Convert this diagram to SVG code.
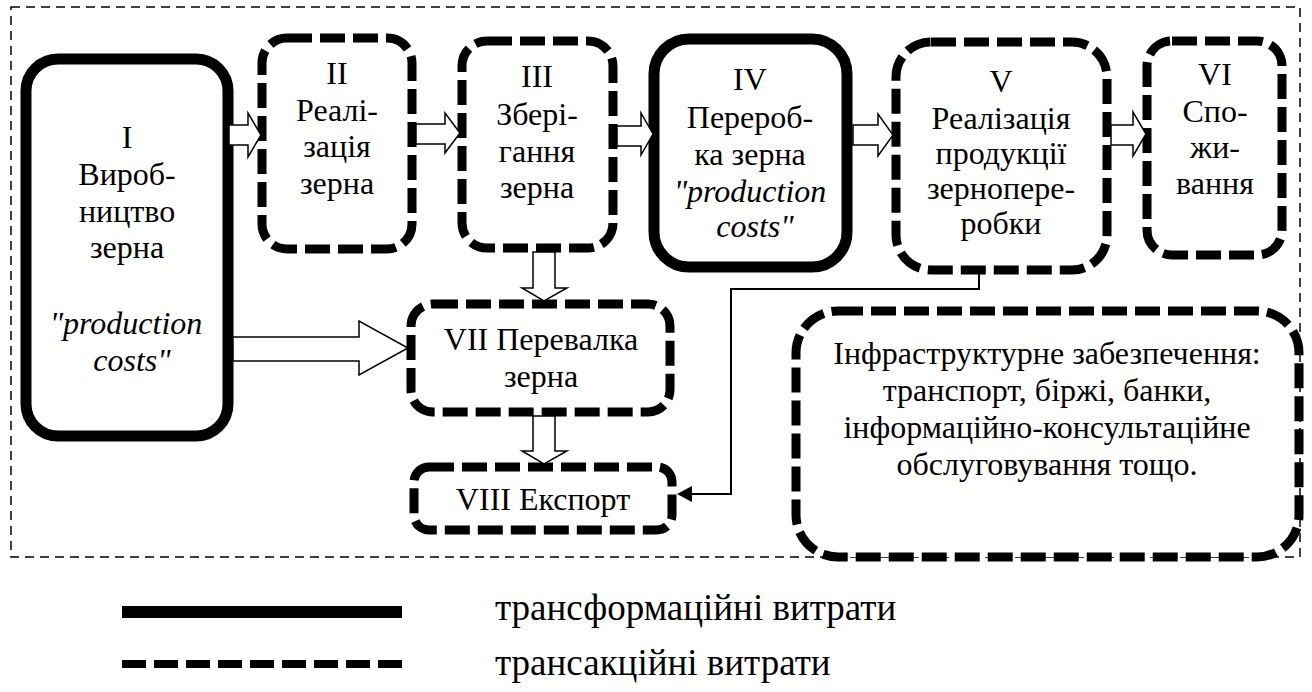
<svg xmlns="http://www.w3.org/2000/svg" width="1312" height="692" viewBox="0 0 1312 692" font-family="Liberation Serif, Times New Roman, DejaVu Serif, serif">
<style>
text{font-size:32px;fill:#000;text-anchor:middle}
.it{font-style:italic}
.thick{fill:#fff;stroke:#000;stroke-width:11}
.dash{fill:#fff;stroke:#000;stroke-width:9;stroke-dasharray:25 8}
.arr{fill:#fff;stroke:#000;stroke-width:1.5;stroke-linejoin:miter}
.leg{text-anchor:start;font-size:37px}
</style>
<rect id="frame" x="11" y="7" width="1289" height="550" fill="none" stroke="#000" stroke-width="1.5" stroke-dasharray="9 6"/>
<g id="n1"><rect class="thick" x="26" y="59" width="202" height="377" rx="32"/>
<text x="127" y="148">I</text><text x="127" y="185">Вироб-</text><text x="127" y="222">ництво</text><text x="127" y="258">зерна</text>
<text class="it" x="126" y="334">"production</text><text class="it" x="132" y="371">costs"</text></g>
<g id="n2"><rect class="dash" x="262" y="38" width="150" height="211" rx="25"/>
<text x="337" y="84">II</text><text x="337" y="121">Реалі-</text><text x="337" y="157">зація</text><text x="337" y="194">зерна</text></g>
<g id="n3"><rect class="dash" x="462" y="41" width="151" height="207" rx="25"/>
<text x="537" y="87">III</text><text x="537" y="125">Збері-</text><text x="537" y="162">гання</text><text x="537" y="198">зерна</text></g>
<g id="n4"><rect class="thick" x="654" y="39" width="193" height="228" rx="35"/>
<text x="750" y="90">IV</text><text x="750" y="128">Перероб-</text><text x="750" y="165">ка зерна</text>
<text class="it" x="750" y="202">"production</text><text class="it" x="755" y="237">costs"</text></g>
<g id="n5"><rect class="dash" x="896" y="42" width="211" height="228" rx="35"/>
<text x="1001" y="92">V</text><text x="1001" y="129">Реалізація</text><text x="1001" y="164">продукції</text><text x="1001" y="199">зернопере-</text><text x="1001" y="234">робки</text></g>
<g id="n6"><rect class="dash" x="1147" y="41" width="135" height="214" rx="25"/>
<text x="1215" y="85">VI</text><text x="1215" y="122">Спо-</text><text x="1215" y="158">жи-</text><text x="1215" y="194">вання</text></g>
<g id="n7"><rect class="dash" x="411" y="304" width="259" height="108" rx="22"/>
<text x="541" y="350">VII Перевалка</text><text x="541" y="387">зерна</text></g>
<g id="n8"><rect class="dash" x="414" y="467" width="258" height="63" rx="15"/>
<text x="543" y="510">VIII Експорт</text></g>
<g id="infra"><rect class="dash" x="796" y="311" width="503" height="246" rx="42"/>
<text x="1047" y="364">Інфраструктурне забезпечення:</text><text x="1047" y="401">транспорт, біржі, банки,</text><text x="1047" y="438">інформаційно-консультаційне</text><text x="1047" y="475">обслуговування тощо.</text></g>
<g id="connectors">
<path class="arr" d="M229,125 H248 V113 L261,135 L248,157 V145 H229 Z"/>
<path class="arr" d="M416,124 H445 V113 L460,133 L445,153 V144 H416 Z"/>
<path class="arr" d="M617,126 H641 V113 L653,134 L641,155 V146 H617 Z"/>
<path class="arr" d="M853,125 H878 V114 L893,135 L878,156 V145 H853 Z"/>
<path class="arr" d="M1111,125 H1133 V112 L1146,134 L1133,156 V145 H1111 Z"/>
<path class="arr" d="M533,252 V288 H522 L544,301 L567,288 H555 V252 Z"/>
<path class="arr" d="M233,337 H359 V321 L408,348 L359,375 V361 H233 Z"/>
<path class="arr" d="M533,416 V451 H522 L544,464 L567,451 H555 V416 Z"/>
<polyline points="979,274 979,289 731,289 731,494 690,494" fill="none" stroke="#000" stroke-width="2"/>
<polygon points="677,494 692,486 692,502" fill="#000"/>
</g>
<g id="legend">
<line x1="122" y1="612" x2="402" y2="612" stroke="#000" stroke-width="12"/>
<line x1="122" y1="664" x2="403" y2="664" stroke="#000" stroke-width="8" stroke-dasharray="24 8"/>
<text class="leg" x="495" y="620">трансформаційні витрати</text>
<text class="leg" x="495" y="675">трансакційні витрати</text>
</g>
</svg>
